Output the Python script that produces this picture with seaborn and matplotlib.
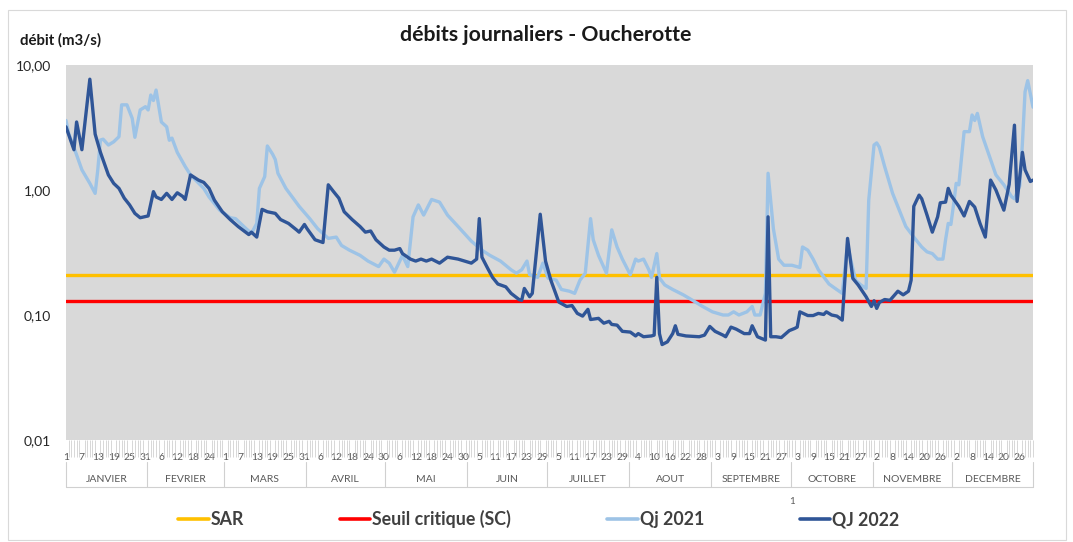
import numpy as np
import pandas as pd
import matplotlib
matplotlib.use("Agg")
import matplotlib.pyplot as plt
import matplotlib.ticker as mticker
from matplotlib.patches import Rectangle
import seaborn as sns

# seuils (m3/s)
SAR = 0.21
SC = 0.13

# mois et nombre de jours (categories Excel, fevrier a 29 jours)
mois = ["JANVIER", "FEVRIER", "MARS", "AVRIL", "MAI", "JUIN", "JUILLET",
        "AOUT", "SEPTEMBRE", "OCTOBRE", "NOVEMBRE", "DECEMBRE"]
jours_mois = [31, 29, 31, 30, 31, 30, 31, 31, 30, 31, 30, 31]

# Qj 2021 (jour de l'annee, debit)
jours_2021 = [0, 1, 4, 6, 9, 11, 12, 13, 14, 16, 18, 20, 21, 23, 25, 26, 28, 30, 31, 32,
              33, 34, 36, 38, 39, 40, 42, 45, 47, 52, 54, 58, 62, 64, 68, 70, 72, 73, 75, 76,
              78, 79, 80, 83, 88, 92, 95, 99, 102, 104, 107, 111, 114, 118, 120, 122, 124, 127, 129, 131,
              133, 135, 138, 141, 144, 148, 153, 157, 160, 164, 168, 170, 172, 174, 175, 178, 180, 182, 185, 187,
              190, 192, 194, 196, 198, 199, 201, 204, 206, 208, 210, 213, 215, 216, 218, 220, 221, 223, 224, 226,
              229, 233, 236, 240, 244, 248, 250, 252, 254, 257, 259, 260, 262, 264, 265, 267, 269, 271, 274, 277,
              278, 280, 282, 284, 288, 290, 293, 295, 296, 298, 300, 302, 303, 305, 306, 307, 309, 312, 315, 317,
              320, 323, 325, 327, 329, 331, 332, 333, 334, 335, 336, 337, 339, 341, 342, 343, 344, 346, 349, 351,
              354, 357, 358, 360, 361, 362, 363, 365]
q_2021 = [3.6, 2.84, 1.91, 1.45, 1.13, 0.94, 1.45, 2.51, 2.55, 2.29, 2.43, 2.67, 4.8, 4.8, 3.74, 2.64, 4.37, 4.64, 4.37, 5.75,
          5.2, 6.3, 3.5, 3.2, 2.5, 2.6, 2.0, 1.54, 1.32, 1.03, 0.88, 0.69, 0.60, 0.59, 0.49, 0.45, 0.54, 1.03, 1.28, 2.25,
          1.93, 1.75, 1.36, 1.03, 0.74, 0.59, 0.49, 0.41, 0.42, 0.36, 0.33, 0.30, 0.27, 0.244, 0.28, 0.26, 0.22, 0.30, 0.244, 0.61,
          0.76, 0.63, 0.84, 0.80, 0.63, 0.51, 0.39, 0.33, 0.30, 0.27, 0.23, 0.216, 0.23, 0.27, 0.21, 0.20, 0.26, 0.197, 0.19, 0.16,
          0.155, 0.149, 0.19, 0.216, 0.59, 0.40, 0.30, 0.216, 0.48, 0.35, 0.28, 0.21, 0.28, 0.27, 0.28, 0.23, 0.20, 0.31, 0.198, 0.174,
          0.16, 0.145, 0.133, 0.118, 0.106, 0.10, 0.10, 0.106, 0.10, 0.106, 0.117, 0.10, 0.10, 0.149, 1.36, 0.49, 0.28, 0.25, 0.25, 0.24,
          0.35, 0.33, 0.28, 0.23, 0.177, 0.165, 0.149, 0.37, 0.29, 0.19, 0.174, 0.163, 0.83, 2.29, 2.38, 2.2, 1.54, 0.94, 0.65, 0.51,
          0.42, 0.35, 0.32, 0.31, 0.28, 0.28, 0.40, 0.54, 0.53, 0.76, 1.13, 1.1, 2.93, 2.93, 3.98, 3.6, 4.1, 2.67, 1.75, 1.32,
          1.1, 0.88, 0.85, 1.08, 2.36, 6.1, 7.5, 4.6]

# QJ 2022
jours_2022 = [0, 3, 4, 6, 9, 11, 13, 16, 18, 20, 22, 24, 26, 28, 31, 33, 34, 36, 38, 40,
              42, 44, 45, 47, 50, 52, 54, 56, 59, 62, 65, 69, 70, 72, 74, 76, 79, 81, 84, 87,
              88, 90, 91, 94, 97, 99, 101, 103, 105, 108, 111, 113, 115, 117, 120, 122, 124, 126, 127, 130,
              132, 134, 136, 138, 141, 144, 148, 153, 155, 156, 157, 159, 161, 163, 166, 168, 171, 172, 173, 175,
              176, 179, 181, 183, 186, 189, 191, 193, 195, 197, 198, 201, 203, 205, 206, 208, 210, 213, 215, 216,
              218, 221, 222, 223, 224, 225, 227, 229, 230, 231, 234, 239, 241, 243, 245, 248, 249, 251, 253, 256,
              258, 259, 261, 264, 265, 266, 268, 270, 273, 275, 276, 277, 280, 282, 284, 286, 287, 289, 291, 293,
              295, 297, 299, 302, 304, 305, 306, 307, 309, 311, 314, 316, 318, 319, 320, 322, 323, 325, 327, 329,
              330, 332, 333, 334, 337, 339, 341, 343, 345, 347, 349, 351, 354, 356, 358, 359, 361, 362, 364, 365]
q_2022 = [3.2, 2.1, 3.5, 2.1, 7.7, 2.8, 2.0, 1.32, 1.13, 1.03, 0.86, 0.76, 0.65, 0.60, 0.62, 0.97, 0.88, 0.84, 0.94, 0.84,
          0.95, 0.89, 0.84, 1.32, 1.20, 1.15, 1.03, 0.83, 0.67, 0.58, 0.51, 0.44, 0.46, 0.42, 0.70, 0.67, 0.65, 0.58, 0.54, 0.48,
          0.46, 0.53, 0.49, 0.40, 0.38, 1.10, 0.97, 0.86, 0.67, 0.58, 0.51, 0.46, 0.47, 0.40, 0.35, 0.33, 0.33, 0.34, 0.31, 0.28,
          0.27, 0.28, 0.27, 0.28, 0.26, 0.29, 0.28, 0.26, 0.28, 0.59, 0.29, 0.24, 0.20, 0.177, 0.168, 0.149, 0.133, 0.131, 0.163, 0.14,
          0.149, 0.64, 0.27, 0.19, 0.127, 0.117, 0.119, 0.103, 0.098, 0.111, 0.092, 0.094, 0.086, 0.089, 0.084, 0.083, 0.074, 0.073, 0.068, 0.071,
          0.067, 0.068, 0.069, 0.20, 0.071, 0.058, 0.061, 0.071, 0.082, 0.070, 0.068, 0.067, 0.069, 0.081, 0.074, 0.069, 0.067, 0.080, 0.077, 0.071,
          0.071, 0.082, 0.067, 0.063, 0.61, 0.067, 0.067, 0.066, 0.075, 0.078, 0.080, 0.106, 0.099, 0.099, 0.103, 0.101, 0.106, 0.100, 0.098, 0.091,
          0.41, 0.196, 0.174, 0.14, 0.117, 0.13, 0.113, 0.126, 0.133, 0.131, 0.155, 0.145, 0.155, 0.19, 0.74, 0.91, 0.85, 0.63, 0.46, 0.61,
          0.79, 0.80, 1.03, 0.91, 0.74, 0.62, 0.81, 0.73, 0.54, 0.42, 1.20, 1.0, 0.69, 1.11, 3.3, 0.81, 2.0, 1.45, 1.17, 1.2]

COL_SAR = "#FFC000"
COL_SC = "#FF0000"
COL_21 = "#9DC3E6"
COL_22 = "#2F5597"
GRIS_TXT = "#595959"

sns.set_style("white")
plt.rcParams["font.family"] = ["Lato", "DejaVu Sans"]

df21 = pd.DataFrame({"jour": jours_2021, "debit": q_2021})
df22 = pd.DataFrame({"jour": jours_2022, "debit": q_2022})

fig = plt.figure(figsize=(10.73, 5.42), dpi=100)
ax = fig.add_axes([66 / 1073, 102 / 542, 967 / 1073, 375 / 542])
ax.set_facecolor("#D9D9D9")

ax.axhline(SAR, color=COL_SAR, lw=2.4, label="SAR")
ax.axhline(SC, color=COL_SC, lw=2.4, label="Seuil critique (SC)")
sns.lineplot(data=df21, x="jour", y="debit", ax=ax, color=COL_21, lw=2.4, label="Qj 2021")
sns.lineplot(data=df22, x="jour", y="debit", ax=ax, color=COL_22, lw=2.4, label="QJ 2022")

ax.set_yscale("log")
ax.set_ylim(0.01, 10)
ax.set_xlim(0, 365)
ax.yaxis.set_major_locator(mticker.FixedLocator([0.01, 0.1, 1, 10]))
ax.yaxis.set_minor_locator(mticker.NullLocator())
ax.yaxis.set_major_formatter(mticker.FuncFormatter(lambda v, p: f"{v:.2f}".replace(".", ",")))
ax.tick_params(axis="y", length=0, pad=11, labelsize=10, labelcolor="#262626")

# etiquettes des jours : une sur six, numerotee dans le mois
jour_du_mois = [d for n in jours_mois for d in range(1, n + 1)]
pos_lab = list(range(0, 366, 6))
ax.set_xticks(pos_lab)
ax.set_xticklabels([str(jour_du_mois[i]) for i in pos_lab])
ax.xaxis.set_minor_locator(mticker.FixedLocator(range(0, 366)))
ax.tick_params(axis="x", which="both", bottom=True)
ax.tick_params(axis="x", which="major", length=0, pad=9, labelsize=7.5, labelcolor=GRIS_TXT)
ax.tick_params(axis="x", which="minor", length=12, width=0.5, color="#C8C8C8", direction="out")
ax.set_xlabel("")
ax.set_ylabel("")
for s in ax.spines.values():
    s.set_visible(False)
ax.get_legend().remove()

# boites des mois
y_haut, y_bas = -22 / 375, -47 / 375
bornes = np.concatenate([[0], np.cumsum(jours_mois)]) - 0.5
bornes[0] = 0
bornes[-1] = 365
trans = ax.get_xaxis_transform()
for b in bornes:
    ax.plot([b, b], [y_haut, y_bas], transform=trans, color="#D0D0D0", lw=0.8, clip_on=False)
ax.plot([0, 365], [y_bas, y_bas], transform=trans, color="#D0D0D0", lw=0.8, clip_on=False)
for i, m in enumerate(mois):
    ax.text((bornes[i] + bornes[i + 1]) / 2, -39 / 375, m, transform=trans,
            ha="center", va="center", fontsize=7.5, color=GRIS_TXT)

fig.text(546 / 1073, 0.935, "débits journaliers - Oucherotte", ha="center", va="center",
         fontsize=15.3, fontweight="bold", color="#1a1a1a")
fig.text(20 / 1073, 0.926, "débit (m3/s)", ha="left", va="center",
         fontsize=10.8, fontweight="bold", color="#1a1a1a")
fig.text(792 / 1073, 1 - 502 / 542, "1", ha="center", va="center", fontsize=7, color=GRIS_TXT)

handles, labels = ax.get_legend_handles_labels()
leg = fig.legend(handles, labels, loc="center", bbox_to_anchor=(539 / 1073, 1 - 519 / 542),
                 ncol=4, frameon=False, handlelength=1.7, handletextpad=0.12, columnspacing=5.4,
                 prop={"weight": "bold", "size": 12.8})
for t in leg.get_texts():
    t.set_color("#404040")
for h in leg.legend_handles:
    h.set_linewidth(2.6)

fig.patches.append(Rectangle((8 / 1073, 2 / 542), 1058 / 1073, 530 / 542, transform=fig.transFigure,
                             fill=False, edgecolor="#D9D9D9", lw=0.8))

fig.savefig("out.png", dpi=100)
